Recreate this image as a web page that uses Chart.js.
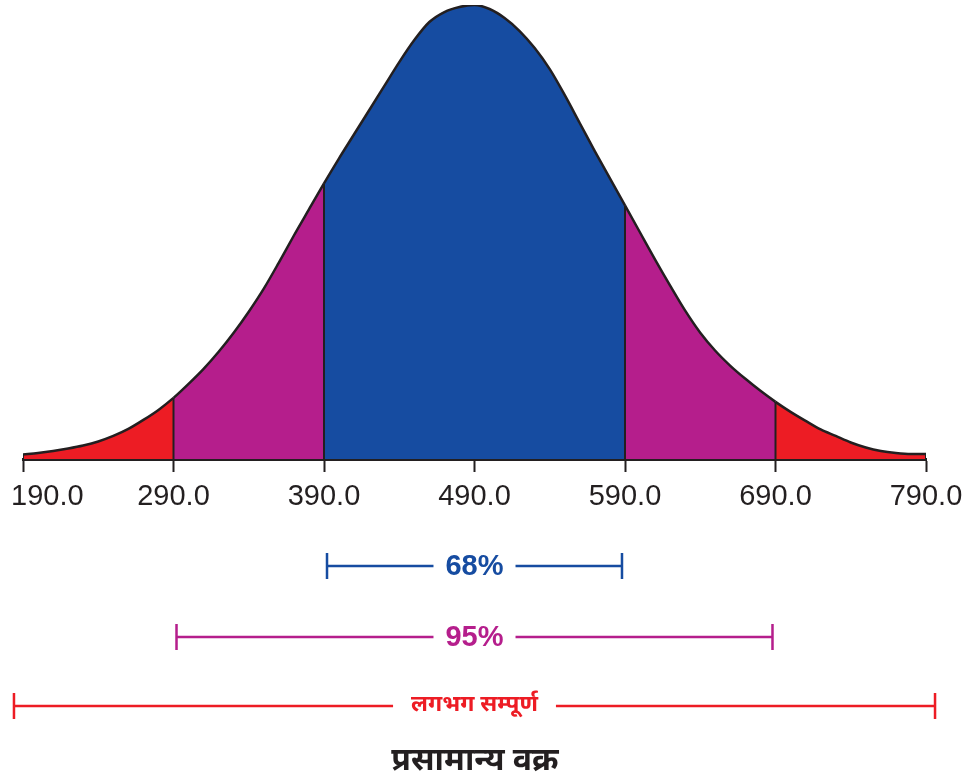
<!DOCTYPE html>
<html>
<head>
<meta charset="utf-8">
<title>प्रसामान्य वक्र</title>
<script src="https://cdn.jsdelivr.net/npm/chart.js@4.4.0/dist/chart.umd.min.js"></script>
<style>
    html, body { margin: 0; padding: 0; background: #fff; }
    #wrap { width: 971px; height: 778px; position: relative; }
</style>
</head>
<body>
<div id="wrap"><canvas id="curve"></canvas></div>
<script>
// Data
const xValues = [190, 200, 210, 220, 230, 240, 250, 260, 270, 280,
                 290, 300, 310, 320, 330, 340, 350, 360, 370, 380,
                 390, 400, 410, 420, 430, 440, 450, 460, 470, 480,
                 490, 500, 510, 520, 530, 540, 550, 560, 570, 580,
                 590, 600, 610, 620, 630, 640, 650, 660, 670, 680,
                 690, 700, 710, 720, 730, 740, 750, 760, 770, 780, 790];
const curveHeights = [4.5, 6, 8, 10.5, 13.5, 17.5, 23, 30, 39, 49,
                      61, 75, 90, 107, 126, 147, 170, 196, 223, 249,
                      275, 300, 324, 348, 372, 396, 418, 436, 446, 451,
                      453, 449, 440, 427, 410, 389, 363, 335, 307, 280,
                      253, 226, 199, 173, 148, 126, 108, 93, 80, 68,
                      57, 47, 38, 29.5, 23, 16.5, 11.5, 8, 6, 5, 5];
const tickValues = [190, 290, 390, 490, 590, 690, 790];
const zoneEdges = [290, 390, 590, 690];
const zoneColors = ['#ed1c24', '#b51e8c', '#164ca1', '#b51e8c', '#ed1c24'];
const dividers = [190, 290, 390, 590, 690, 790];
const rangeLabels = ['68%', '95%', 'लगभग सम्पूर्ण'];
const rangeFrom = [392, 292, 184];
const rangeTo = [588, 688, 796];
const rangeColors = ['#164ca1', '#b51e8c', '#ed1c24'];
const chartTitle = 'प्रसामान्य वक्र';

const ink = '#231f20';
const latin = '"Liberation Sans", Arial, sans-serif';
const deva = "'Noto Sans Devanagari', 'Lohit Devanagari', 'Noto Sans', sans-serif";

const zoneColor = function (x) {
    let i = 0;
    while (i < zoneEdges.length && x > zoneEdges[i]) i++;
    return zoneColors[i];
};

const heightAt = function (x) {
    return curveHeights[xValues.indexOf(x)];
};

const curvePoints = xValues.map((x, i) => ({ x: x, y: curveHeights[i] }));

const dividerSets = dividers.map(d => ({
    data: [{ x: d, y: 0 }, { x: d, y: heightAt(d) }],
    borderColor: ink,
    borderWidth: 2,
    pointRadius: 0,
    fill: false,
    order: 1
}));

// tick labels, kept inside the canvas at the ends
const tickLabelPlugin = {
    id: 'tickLabels',
    afterDraw: function (chart) {
        const ctx = chart.ctx;
        const xs = chart.scales.x;
        ctx.save();
        ctx.font = '29px ' + latin;
        ctx.fillStyle = ink;
        ctx.textAlign = 'left';
        ctx.textBaseline = 'middle';
        xs.ticks.forEach(t => {
            const label = Number(t.value).toFixed(1);
            const w = ctx.measureText(label).width;
            let left = xs.getPixelForValue(t.value) - w / 2;
            left = Math.max(11, Math.min(left, chart.width - 5 - w));
            ctx.fillText(label, left, 497);
        });
        ctx.restore();
    }
};

// ranges under the axis and the caption
const rangePlugin = {
    id: 'ranges',
    afterDraw: function (chart) {
        const ctx = chart.ctx;
        const xs = chart.scales.x;
        const rowY = [566, 637, 706];
        const fonts = ['bold 29px ' + latin, 'bold 29px ' + latin, 'bold 23px ' + deva];
        const gaps = [12, 12, 18];
        ctx.save();
        for (let i = 0; i < rangeLabels.length; i++) {
            const x1 = xs.getPixelForValue(rangeFrom[i]);
            const x2 = xs.getPixelForValue(rangeTo[i]);
            const mid = (x1 + x2) / 2;
            const y = rowY[i];
            ctx.font = fonts[i];
            const half = ctx.measureText(rangeLabels[i]).width / 2 + gaps[i];
            ctx.strokeStyle = rangeColors[i];
            ctx.fillStyle = rangeColors[i];
            ctx.lineWidth = 2.5;
            ctx.beginPath();
            ctx.moveTo(x1, y); ctx.lineTo(mid - half, y);
            ctx.moveTo(mid + half, y); ctx.lineTo(x2, y);
            ctx.moveTo(x1, y - 13); ctx.lineTo(x1, y + 13);
            ctx.moveTo(x2, y - 13); ctx.lineTo(x2, y + 13);
            ctx.stroke();
            ctx.textAlign = 'center';
            ctx.textBaseline = 'middle';
            ctx.fillText(rangeLabels[i], mid, y + 1);
        }
        ctx.font = 'bold 32px ' + deva;
        ctx.fillStyle = ink;
        ctx.textAlign = 'center';
        ctx.textBaseline = 'middle';
        ctx.fillText(chartTitle, 475, 764);
        ctx.restore();
    }
};

new Chart(document.getElementById('curve'), {
    type: 'line',
    data: {
        datasets: [{
            data: curvePoints,
            borderColor: ink,
            borderWidth: 2.5,
            pointRadius: 0,
            cubicInterpolationMode: 'monotone',
            fill: 'origin',
            backgroundColor: zoneColors[2],
            segment: {
                backgroundColor: c => zoneColor((c.p0.parsed.x + c.p1.parsed.x) / 2)
            },
            order: 2
        }].concat(dividerSets)
    },
    options: {
        responsive: true,
        maintainAspectRatio: false,
        animation: false,
        events: [],
        layout: { padding: { left: 23, right: 45, top: 5, bottom: 259 } },
        plugins: {
            legend: { display: false },
            tooltip: { enabled: false }
        },
        scales: {
            x: {
                type: 'linear',
                min: 190,
                max: 790,
                z: 1,
                afterBuildTicks: s => { s.ticks = tickValues.map(v => ({ value: v })); },
                afterFit: s => { s.paddingLeft = 0; s.paddingRight = 0; s.height = 60; },
                border: { display: true, color: ink, width: 3 },
                grid: {
                    drawOnChartArea: false,
                    drawTicks: true,
                    tickLength: 13,
                    tickColor: ink,
                    tickWidth: 2
                },
                ticks: { display: false }
            },
            y: {
                display: false,
                min: 0,
                max: 453
            }
        }
    },
    plugins: [tickLabelPlugin, rangePlugin]
});
</script>
</body>
</html>
